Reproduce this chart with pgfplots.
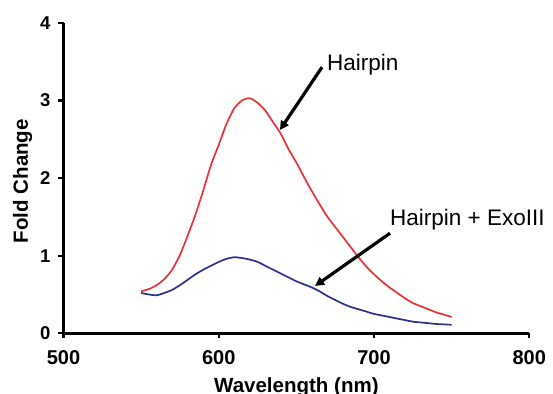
\documentclass[border=0pt]{standalone}
\usepackage{pgfplots}
\pgfplotsset{compat=1.18}
\usepackage{fontspec}
\setmainfont{Liberation Sans}
\usetikzlibrary{arrows.meta}
\definecolor{hred}{RGB}{237,50,55}
\definecolor{hblue}{RGB}{46,48,140}
\pgfplotstableread{
wl fc
550 0.54
555 0.57
560 0.62
565 0.70
570 0.82
575 1.01
580 1.26
585 1.53
590 1.84
595 2.17
600 2.43
605 2.70
610 2.90
615 3.00
620 3.03
625 2.97
630 2.87
635 2.72
640 2.57
645 2.37
650 2.20
655 2.01
660 1.83
665 1.66
670 1.50
675 1.37
680 1.24
685 1.11
690 0.98
695 0.86
700 0.76
705 0.67
710 0.59
715 0.52
720 0.45
725 0.39
730 0.35
735 0.31
740 0.27
745 0.24
750 0.21
}\hairpin
\pgfplotstableread{
wl fc
550 0.52
555 0.50
560 0.49
565 0.52
570 0.56
575 0.62
580 0.69
585 0.76
590 0.82
595 0.87
600 0.92
605 0.96
610 0.98
615 0.97
620 0.95
625 0.92
630 0.87
635 0.82
640 0.77
645 0.72
650 0.67
655 0.63
660 0.59
665 0.54
670 0.48
675 0.43
680 0.38
685 0.34
690 0.31
695 0.28
700 0.25
705 0.23
710 0.21
715 0.19
720 0.17
725 0.15
730 0.14
735 0.13
740 0.12
745 0.115
750 0.11
}\exo
\begin{document}
\begin{tikzpicture}
\begin{axis}[
  at={(63.5pt,59.7pt)}, anchor=south west,
  scale only axis, width=465.8pt, height=310.4pt,
  xmin=500, xmax=800, ymin=0, ymax=4,
  axis lines=left, axis line style={-, line width=3pt},
  xtick={500,600,700,800}, ytick={0,1,2,3,4},
  tick align=outside, major tick length=5pt,
  tick style={line width=2.2pt, black},
  /pgf/number format/assume math mode=true,
  xticklabel style={font=\fontsize{20}{24}\selectfont\bfseries, inner sep=0pt, anchor=north, yshift=-11.7pt},
  yticklabel style={font=\fontsize{18.5}{22}\selectfont\bfseries, inner sep=0pt, anchor=east, xshift=-7.8pt},
  xlabel={Wavelength (nm)},
  xlabel style={font=\fontsize{20.5}{24}\selectfont\bfseries, at={(axis description cs:0.5,0)}, anchor=base, inner sep=0pt, yshift=-59pt},
  clip=false,
]
\addplot[hred, line width=1.7pt, smooth, tension=0.4] table[x=wl, y=fc] {\hairpin};
\addplot[hblue, line width=1.7pt, smooth, tension=0.4] table[x=wl, y=fc] {\exo};
\draw[line width=3.2pt, -{Triangle[length=9pt, width=9pt]}] (axis cs:666.5,3.43) -- (axis cs:639.4,2.62);
\draw[line width=3.2pt, -{Triangle[length=9pt, width=9pt]}] (axis cs:710.3,1.29) -- (axis cs:662.0,0.61);
\node[anchor=base west, inner sep=0pt, font=\fontsize{22.5}{26}\selectfont] at (axis cs:669.7,3.393) {Hairpin};
\node[anchor=base west, inner sep=0pt, font=\fontsize{22.5}{26}\selectfont] at (axis cs:710.3,1.383) {Hairpin + ExoIII};
\node[rotate=90, anchor=base, inner sep=0pt, font=\fontsize{20.5}{24}\selectfont\bfseries] at ([xshift=-35.5pt]axis description cs:0,0.49) {Fold Change};
\end{axis}
\pgfresetboundingbox
\path[use as bounding box] (0,0) rectangle (553pt,393pt);
\end{tikzpicture}
\end{document}
